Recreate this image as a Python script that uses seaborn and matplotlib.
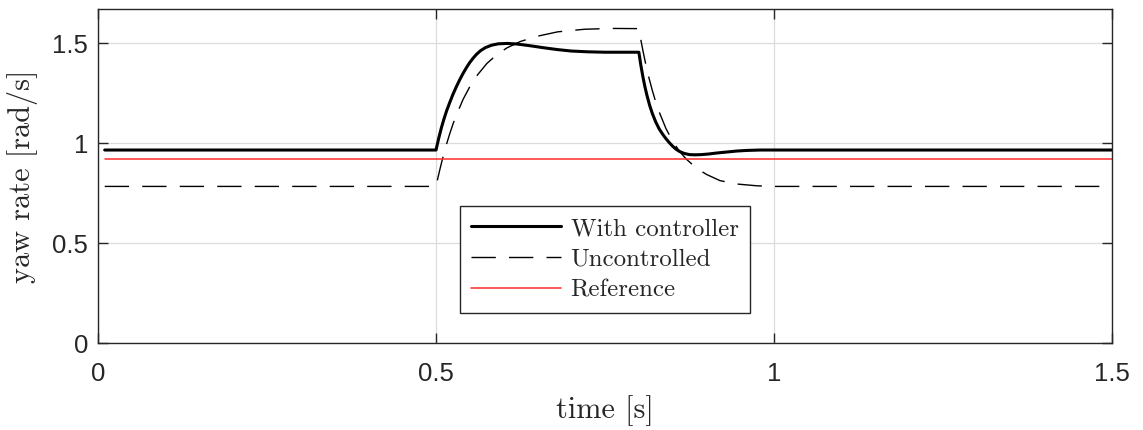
import matplotlib
matplotlib.use("Agg")
import matplotlib.pyplot as plt
import seaborn as sns

# ---- data ----
t_ctrl = [0.010, 0.500, 0.504, 0.508, 0.512, 0.516, 0.520, 0.525, 0.530, 0.535,
          0.540, 0.545, 0.550, 0.555, 0.560, 0.566, 0.573, 0.582, 0.592, 0.605,
          0.620, 0.640, 0.660, 0.680, 0.700, 0.725, 0.750, 0.800, 0.803, 0.806,
          0.809, 0.812, 0.816, 0.820, 0.825, 0.830, 0.835, 0.840, 0.845, 0.850,
          0.855, 0.860, 0.867, 0.875, 0.883, 0.892, 0.903, 0.915, 0.930, 0.945,
          0.960, 0.980, 1.000, 1.500]
y_ctrl = [0.965, 0.965, 1.024, 1.077, 1.123, 1.164, 1.200, 1.243, 1.281, 1.316,
          1.348, 1.377, 1.403, 1.425, 1.444, 1.462, 1.477, 1.489, 1.496, 1.498,
          1.495, 1.486, 1.476, 1.467, 1.460, 1.456, 1.454, 1.454, 1.388, 1.331,
          1.281, 1.238, 1.188, 1.147, 1.105, 1.071, 1.045, 1.022, 1.002, 0.984,
          0.969, 0.958, 0.948, 0.942, 0.941, 0.942, 0.945, 0.950, 0.955, 0.960,
          0.963, 0.965, 0.965, 0.965]

t_unc = [0.010, 0.500, 0.503, 0.506, 0.510, 0.515, 0.520, 0.525, 0.530, 0.540,
         0.550, 0.560, 0.575, 0.590, 0.605, 0.625, 0.650, 0.680, 0.720, 0.760,
         0.800, 0.803, 0.806, 0.810, 0.815, 0.820, 0.825, 0.830, 0.840, 0.850,
         0.860, 0.870, 0.880, 0.890, 0.900, 0.920, 0.945, 0.975, 1.000, 1.500]
y_unc = [0.783, 0.783, 0.829, 0.872, 0.926, 0.988, 1.043, 1.094, 1.139, 1.218,
         1.282, 1.335, 1.397, 1.442, 1.476, 1.508, 1.534, 1.556, 1.569, 1.573,
         1.572, 1.515, 1.462, 1.397, 1.325, 1.262, 1.205, 1.156, 1.073, 1.009,
         0.959, 0.920, 0.890, 0.864, 0.843, 0.812, 0.795, 0.786, 0.783, 0.783]

t_ref = [0.010, 1.500]
y_ref = [0.918, 0.918]

labels = ["With controller", "Uncontrolled", "Reference"]
x_ticks = [0, 0.5, 1, 1.5]
x_tick_labels = ["0", "0.5", "1", "1.5"]
y_ticks = [0, 0.5, 1, 1.5]
y_tick_labels = ["0", "0.5", "1", "1.5"]

# ---- style ----
sns.set_theme(style="white")
plt.rcParams["font.family"] = ["Liberation Sans", "DejaVu Sans"]

fig = plt.figure(figsize=(11.43, 4.30), dpi=100)
ax = fig.add_axes([0.0857, 0.2023, 0.8873, 0.7767])

dark = "#262626"
sns.lineplot(x=t_ctrl, y=y_ctrl, ax=ax, color="black", linewidth=2.2,
             sort=False, estimator=None, label=labels[0])
sns.lineplot(x=t_unc, y=y_unc, ax=ax, color="black", linewidth=1.0,
             sort=False, estimator=None, label=labels[1],
             linestyle=(0, (17.5, 9.5)))
sns.lineplot(x=t_ref, y=y_ref, ax=ax, color="#ff2a2a", linewidth=1.1,
             sort=False, estimator=None, label=labels[2])

ax.set_xlim(0, 1.5)
ax.set_ylim(0, 1.67)
ax.set_xticks(x_ticks)
ax.set_xticklabels(x_tick_labels)
ax.set_yticks(y_ticks)
ax.set_yticklabels(y_tick_labels)

ax.grid(True, color="#dcdcdc", linewidth=0.9)
ax.set_axisbelow(True)
for s in ax.spines.values():
    s.set_color(dark)
    s.set_linewidth(1.0)
    s.set_visible(True)

ax.tick_params(axis="both", which="major", direction="in", length=7,
               width=1.0, color=dark, labelcolor=dark, labelsize=18.5,
               top=True, right=True, bottom=True, left=True)
ax.tick_params(axis="x", pad=14)
ax.tick_params(axis="y", pad=7)

serif = ["cmr10", "DejaVu Serif"]
ax.set_xlabel("time [s]", family=serif, fontsize=21.8, color=dark, labelpad=6)
ax.set_ylabel("yaw rate [rad/s]", family=serif, fontsize=21.8, color=dark, labelpad=10)

leg = ax.legend(loc="lower left", bbox_to_anchor=(0.357, 0.09),
                borderaxespad=0, prop={"family": serif, "size": 17.9},
                handlelength=3.6, handletextpad=0.4, borderpad=0.45,
                labelspacing=0.34, fancybox=False, framealpha=1,
                edgecolor=dark)
leg.get_frame().set_linewidth(1.0)

fig.savefig("out.png", dpi=100, facecolor="white")
